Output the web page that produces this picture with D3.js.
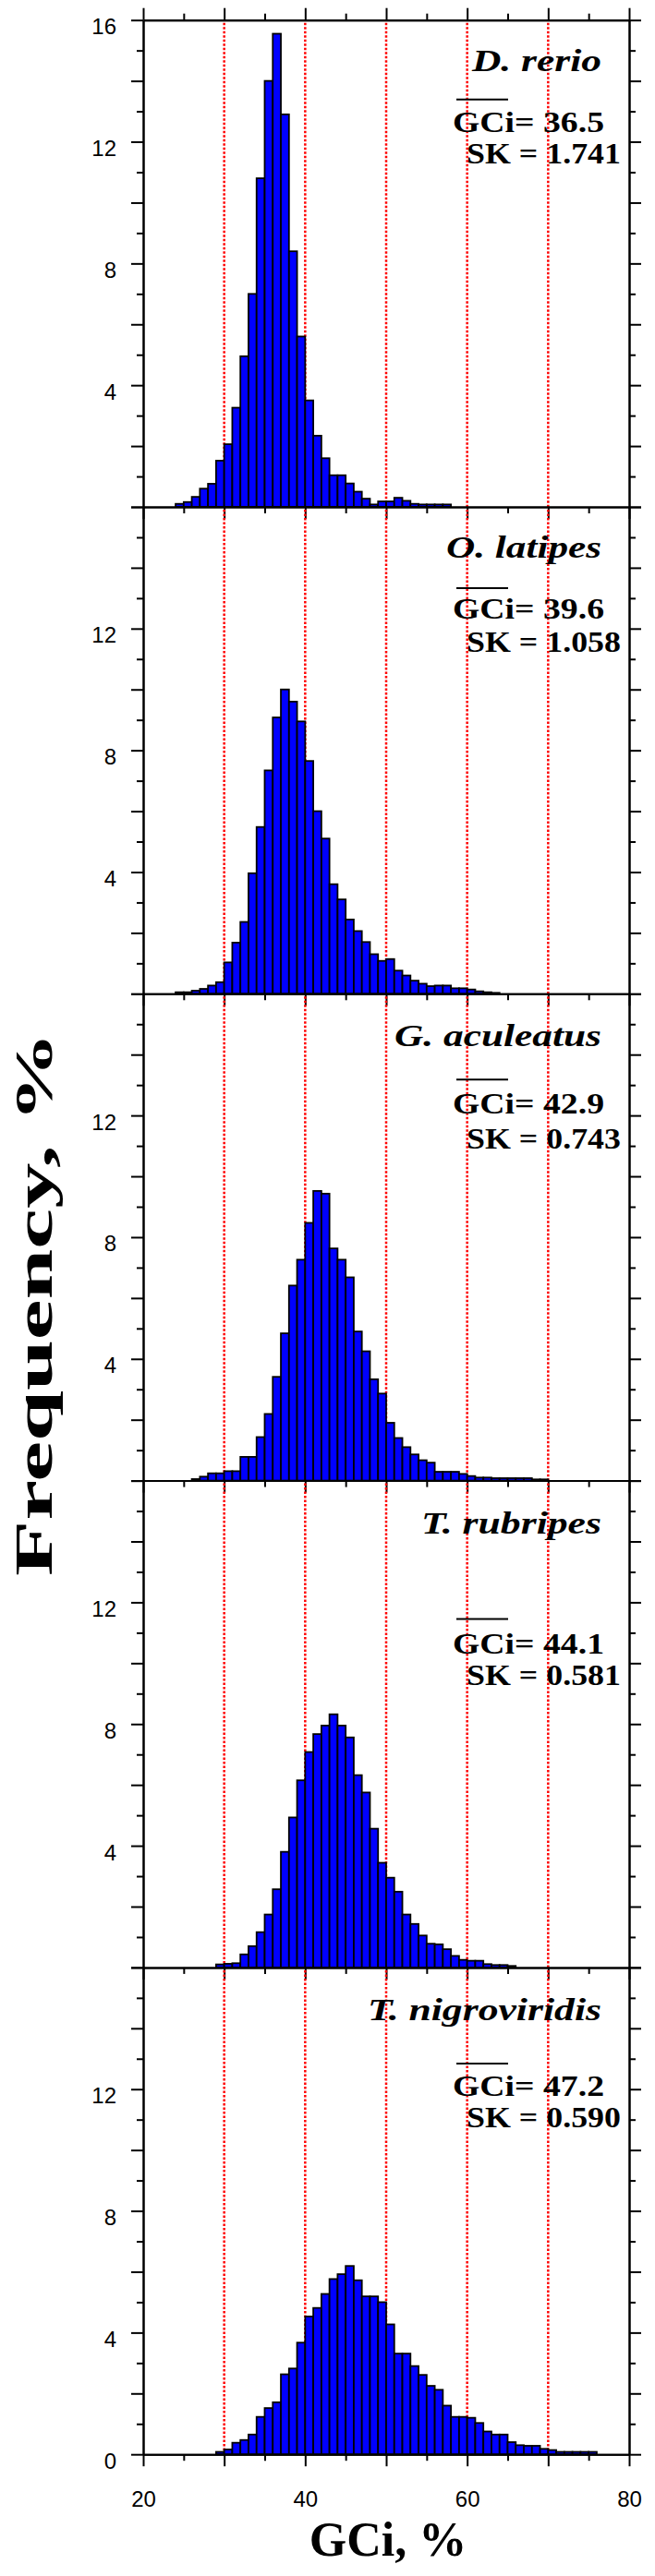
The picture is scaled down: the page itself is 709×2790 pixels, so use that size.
<!DOCTYPE html>
<html>
<head>
<meta charset="utf-8">
<script src="https://cdn.jsdelivr.net/npm/d3@7"></script>
<style>
body { margin: 0; background: #fff; }
</style>
</head>
<body>
<svg id="viz" width="709" height="2790"></svg>
<script>
// one panel per genome
var species = ["D. rerio", "O. latipes", "G. aculeatus", "T. rubripes", "T. nigroviridis"];
var meanGC = ["36.5", "39.6", "42.9", "44.1", "47.2"];
var skew = ["1.741", "1.058", "0.743", "0.581", "0.590"];
var firstBin = [24, 24, 26, 29, 29];   // left edge (GCi %) of first bar, bins are 1% wide

var dRerio = [0.1, 0.16, 0.33, 0.6, 0.76, 1.52, 2.06, 3.26, 4.95, 7.0, 10.8, 14.0, 15.55, 12.9, 8.4, 5.6, 3.5,
  2.34, 1.6, 1.04, 1.04, 0.77, 0.5, 0.27, 0.08, 0.18, 0.18, 0.3, 0.2, 0.1, 0.08, 0.08, 0.08, 0.08];
var oLatipes = [0.05, 0.05, 0.1, 0.16, 0.27, 0.38, 1.03, 1.68, 2.36, 3.96, 5.48, 7.34, 9.08, 10.0, 9.6, 8.95,
  7.65, 6.0, 5.1, 3.6, 3.1, 2.44, 2.06, 1.7, 1.3, 1.08, 1.14, 0.76, 0.6, 0.43, 0.33, 0.25, 0.27, 0.27, 0.18,
  0.18, 0.14, 0.08, 0.05, 0.03];
var gAculeatus = [0.05, 0.13, 0.24, 0.24, 0.31, 0.31, 0.78, 0.78, 1.43, 2.19, 3.41, 4.84, 6.41, 7.26, 8.47,
  9.52, 9.43, 7.63, 7.26, 6.68, 4.9, 4.25, 3.33, 2.86, 1.9, 1.4, 1.1, 0.86, 0.67, 0.59, 0.29, 0.29, 0.29,
  0.22, 0.15, 0.1, 0.1, 0.08, 0.08, 0.08, 0.08, 0.08, 0.04, 0.04];
var tRubripes = [0.1, 0.12, 0.14, 0.43, 0.7, 1.16, 1.74, 2.57, 3.8, 4.93, 6.15, 7.08, 7.67, 7.95, 8.32, 7.95,
  7.56, 6.32, 5.75, 4.56, 3.44, 2.95, 2.49, 1.74, 1.43, 1.05, 0.78, 0.76, 0.6, 0.38, 0.25, 0.22, 0.22, 0.11,
  0.08, 0.08, 0.05];
var tNigroviridis = [0.08, 0.16, 0.38, 0.47, 0.65, 1.23, 1.52, 1.71, 2.63, 2.82, 3.67, 4.53, 4.81, 5.27, 5.76,
  5.92, 6.19, 5.72, 5.19, 5.19, 5.0, 4.27, 3.31, 3.31, 2.9, 2.61, 2.25, 2.12, 1.6, 1.23, 1.23, 1.2, 1.03,
  0.75, 0.65, 0.65, 0.4, 0.3, 0.28, 0.28, 0.18, 0.14, 0.08, 0.08, 0.08, 0.08, 0.08];
var freqs = [dRerio, oLatipes, gAculeatus, tRubripes, tNigroviridis];

var xLabels = [20, 40, 60, 80];
var redLines = [30, 40, 50, 60, 70];

// where the annotation lines sit, counted from the top of each panel
var specY = [55, 55, 57, 57, 57];
var specW = [140, 168, 224, 195, 253];
var barY = [86, 88, 93, 150, 104];
var gcY = [121, 121, 130, 187, 139];
var skY = [155, 157, 168, 221, 173];

var panelH = 527.3, top0 = 21.7;
var svg = d3.select("#viz");
var x = d3.scaleLinear().domain([20, 80]).range([155, 681]);

function styleAxis(sel) {
  sel.attr("font-family", "'Liberation Sans', Arial, sans-serif").attr("font-size", 24);
  sel.selectAll("path, line").attr("stroke", "#000").attr("stroke-width", 2);
  sel.selectAll("text").attr("fill", "#000");
}

freqs.forEach(function(vals, p) {
  var pt = top0 + p * panelH;
  var y = d3.scaleLinear().domain([0, 16]).range([pt + panelH, pt]);
  var g = svg.append("g");

  g.selectAll("line.red").data(redLines).enter().append("line")
    .attr("class", "red")
    .attr("x1", function(d) { return x(d); })
    .attr("x2", function(d) { return x(d); })
    .attr("y1", y(16) + 3)
    .attr("y2", y(0))
    .attr("stroke", "#ff0000")
    .attr("stroke-width", 2.5)
    .attr("stroke-dasharray", "2.5,2");

  var bins = vals.map(function(v, i) { return { b: firstBin[p] + i, v: v }; });
  g.selectAll("rect").data(bins).enter().append("rect")
    .attr("x", function(d) { return x(d.b); })
    .attr("width", function(d) { return x(d.b + 1) - x(d.b); })
    .attr("y", function(d) { return y(d.v); })
    .attr("height", function(d) { return y(0) - y(d.v); })
    .attr("fill", "#0000ff")
    .attr("stroke", "#000")
    .attr("stroke-width", 1.8);

  var labs = p == 0 ? [4, 8, 12, 16] : (p == 4 ? [0, 4, 8, 12] : [4, 8, 12]);

  // left
  g.append("g").attr("transform", "translate(155,0)")
    .call(d3.axisLeft(y).tickValues(d3.range(1, 16, 2)).tickSize(7).tickSizeOuter(0).tickFormat(""))
    .call(styleAxis);
  g.append("g").attr("transform", "translate(155,0)")
    .call(d3.axisLeft(y).tickValues(d3.range(0, 17, 2)).tickSize(13).tickSizeOuter(0).tickPadding(16)
      .tickFormat(function(d) { return labs.indexOf(d) >= 0 ? d : ""; }))
    .call(styleAxis)
    .selectAll("text").attr("dy", 15);

  // right
  g.append("g").attr("transform", "translate(681,0)")
    .call(d3.axisRight(y).tickValues(d3.range(1, 16, 2)).tickSize(7).tickSizeOuter(0).tickFormat(""))
    .call(styleAxis);
  g.append("g").attr("transform", "translate(681,0)")
    .call(d3.axisRight(y).tickValues(d3.range(0, 17, 2)).tickSize(13).tickSizeOuter(0).tickFormat(""))
    .call(styleAxis);

  // bottom
  g.append("g").attr("transform", "translate(0," + y(0) + ")")
    .call(d3.axisBottom(x).tickValues(d3.range(25, 80, 10)).tickSize(7).tickSizeOuter(0).tickFormat(""))
    .call(styleAxis);
  var bx = g.append("g").attr("transform", "translate(0," + y(0) + ")")
    .call(d3.axisBottom(x).tickValues(d3.range(20, 81, 10)).tickSize(13).tickSizeOuter(0)
      .tickFormat(function(d) { return p == 4 && xLabels.indexOf(d) >= 0 ? d : ""; }))
    .call(styleAxis);
  bx.selectAll("text").attr("y", 57).attr("dy", 0);

  if (p == 0) {
    g.append("g").attr("transform", "translate(0," + y(16) + ")")
      .call(d3.axisTop(x).tickValues(d3.range(25, 80, 10)).tickSize(7).tickSizeOuter(0).tickFormat(""))
      .call(styleAxis);
    g.append("g").attr("transform", "translate(0," + y(16) + ")")
      .call(d3.axisTop(x).tickValues(d3.range(20, 81, 10)).tickSize(13).tickSizeOuter(0).tickFormat(""))
      .call(styleAxis);
  }

  // species name + stats
  g.append("text")
    .attr("x", 651 - specW[p]).attr("y", pt + specY[p])
    .attr("textLength", specW[p]).attr("lengthAdjust", "spacingAndGlyphs")
    .attr("font-family", "'Liberation Serif', 'Times New Roman', serif")
    .attr("font-style", "italic").attr("font-weight", "bold").attr("font-size", 34)
    .text(species[p]);

  g.append("line")
    .attr("x1", 494).attr("x2", 550)
    .attr("y1", pt + barY[p]).attr("y2", pt + barY[p])
    .attr("stroke", "#000").attr("stroke-width", 2);

  g.append("text")
    .attr("x", 490).attr("y", pt + gcY[p])
    .attr("textLength", 164).attr("lengthAdjust", "spacingAndGlyphs")
    .attr("font-family", "'Liberation Serif', 'Times New Roman', serif")
    .attr("font-weight", "bold").attr("font-size", 31)
    .text("GCi= " + meanGC[p]);

  g.append("text")
    .attr("x", 505).attr("y", pt + skY[p])
    .attr("textLength", 167).attr("lengthAdjust", "spacingAndGlyphs")
    .attr("font-family", "'Liberation Serif', 'Times New Roman', serif")
    .attr("font-weight", "bold").attr("font-size", 31)
    .text("SK = " + skew[p]);
});

// axis titles
svg.append("text")
  .attr("x", 420).attr("y", 2768)
  .attr("text-anchor", "middle")
  .attr("font-family", "'Liberation Serif', 'Times New Roman', serif")
  .attr("font-weight", "bold").attr("font-size", 52)
  .text("GCi, %");

svg.append("text")
  .attr("transform", "translate(56,1412) rotate(-90)")
  .attr("text-anchor", "middle")
  .attr("textLength", 590).attr("lengthAdjust", "spacingAndGlyphs")
  .attr("font-family", "'Liberation Serif', 'Times New Roman', serif")
  .attr("font-weight", "bold").attr("font-size", 58)
  .text("Frequency, %");
</script>
</body>
</html>
